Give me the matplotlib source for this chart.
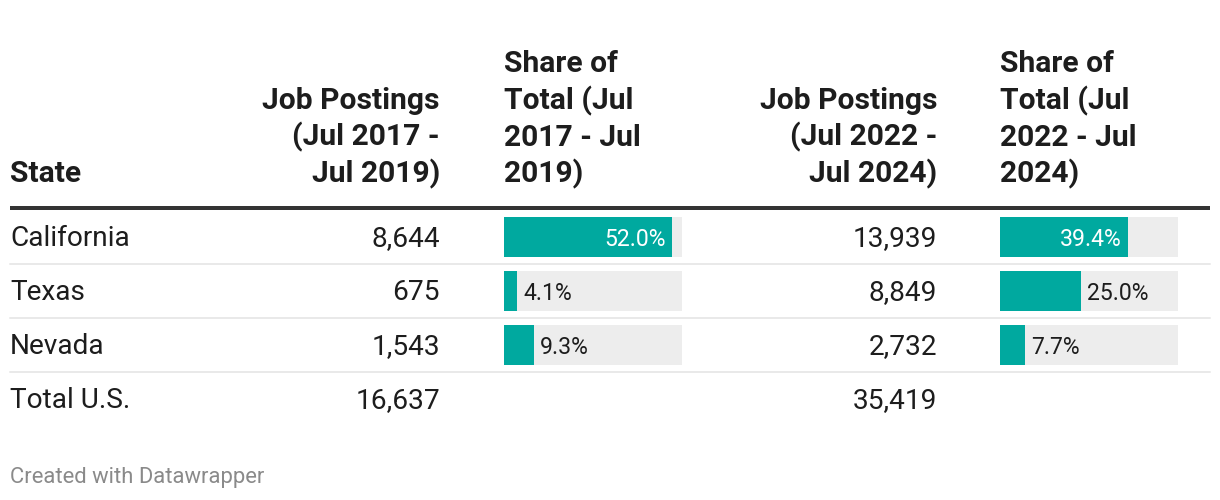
import matplotlib
matplotlib.use("Agg")
import matplotlib.pyplot as plt

# Table data
states = ["California", "Texas", "Nevada"]
postings_2017 = [8644, 675, 1543]
share_2017 = [52.0, 4.1, 9.3]
postings_2022 = [13939, 8849, 2732]
share_2022 = [39.4, 25.0, 7.7]
total_label = "Total U.S."
total_2017 = 16637
total_2022 = 35419

headers = [
    ["State"],
    ["Job Postings", "(Jul 2017 -", "Jul 2019)"],
    ["Share of", "Total (Jul", "2017 - Jul", "2019)"],
    ["Job Postings", "(Jul 2022 -", "Jul 2024)"],
    ["Share of", "Total (Jul", "2022 - Jul", "2024)"],
]

TEAL = "#00a99f"
BAR_BG = "#ededed"
TEXT = "#1d1d1d"
SHARE_MAX = 55

W, H = 1220, 500
PT = 0.72  # px -> pt at dpi 100
HEAD_FS = 30 * PT
BODY_FS = 28 * PT
PCT_FS = 23 * PT

plt.rcParams["font.family"] = ["Roboto", "DejaVu Sans"]

fig = plt.figure(figsize=(W / 100, H / 100), dpi=100)
ax = fig.add_axes([0, 0, 1, 1])
ax.set_xlim(0, W)
ax.set_ylim(H, 0)
ax.axis("off")

# column anchors (x, alignment)
cols = [(10, "left"), (440, "right"), (504, "left"), (937, "right"), (1000, "left")]
head_base = 182
line_h = 36.5
for (x, ha), lines in zip(cols, headers):
    for k, line in enumerate(reversed(lines)):
        ax.text(x, head_base - k * line_h, line, ha=ha, va="baseline",
                fontsize=HEAD_FS, fontweight="bold", color=TEXT)

ax.plot([10, 1210], [208, 208], color="#333333", lw=4 * PT, solid_capstyle="butt")

row_top = 210
row_h = 54
rows_y = [row_top + row_h * (i + 0.5) for i in range(len(states) + 1)]

for i, st in enumerate(states):
    y = rows_y[i]
    ax.text(10, y + 9.5, st, ha="left", va="baseline", fontsize=BODY_FS, color=TEXT)
    ax.text(440, y + 9.5, f"{postings_2017[i]:,}", ha="right", va="baseline",
            fontsize=BODY_FS, color=TEXT)
    ax.text(937, y + 9.5, f"{postings_2022[i]:,}", ha="right", va="baseline",
            fontsize=BODY_FS, color=TEXT)
    sep = row_top + row_h * (i + 1)
    ax.plot([10, 1210], [sep, sep], color="#e3e3e3", lw=1.5 * PT)

yt = rows_y[-1]
ax.text(10, yt + 9.5, total_label, ha="left", va="baseline", fontsize=BODY_FS, color=TEXT)
ax.text(440, yt + 9.5, f"{total_2017:,}", ha="right", va="baseline", fontsize=BODY_FS, color=TEXT)
ax.text(937, yt + 9.5, f"{total_2022:,}", ha="right", va="baseline", fontsize=BODY_FS, color=TEXT)

# bar columns as inset axes
bar_w = 178
px = SHARE_MAX / bar_w  # data units per pixel
for x0, shares in [(504, share_2017), (1000, share_2022)]:
    bx = fig.add_axes([x0 / W, (H - (row_top + row_h * 3)) / H, bar_w / W, row_h * 3 / H])
    bx.set_xlim(0, SHARE_MAX)
    bx.set_ylim(len(shares) - 0.5, -0.5)
    bx.axis("off")
    ypos = list(range(len(shares)))
    bx.barh(ypos, [SHARE_MAX] * len(shares), height=40 / row_h, color=BAR_BG)
    bx.barh(ypos, shares, height=40 / row_h, color=TEAL)
    for j, v in enumerate(shares):
        lbl = f"{v:.1f}%"
        if v > 30:
            bx.text(v - 6 * px, j, lbl, ha="right", va="center_baseline",
                    fontsize=PCT_FS, color="white")
        else:
            bx.text(v + 6 * px, j, lbl, ha="left", va="center_baseline",
                    fontsize=PCT_FS, color=TEXT)

ax.text(10, 483, "Created with Datawrapper", ha="left", va="baseline",
        fontsize=22 * PT, color="#8a8a8a")

fig.savefig("out.png", dpi=100)
